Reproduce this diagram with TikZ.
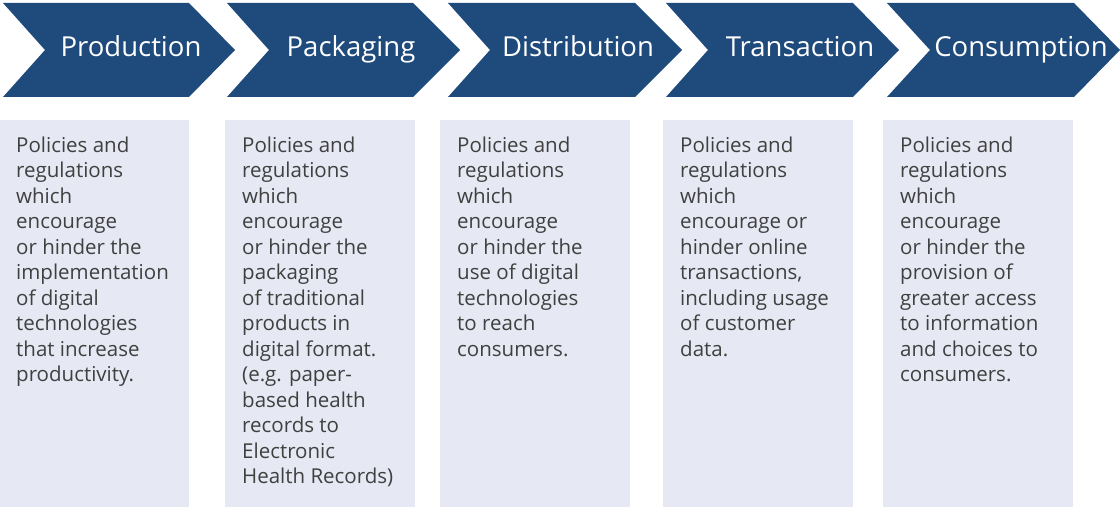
\documentclass[tikz,border=0pt]{standalone}
\usepackage{fontspec}
\setmainfont{Open Sans}
\usepackage{tikz}
\usetikzlibrary{positioning}
\usepackage{xcolor}
\definecolor{chevblue}{HTML}{1F4A7C}
\definecolor{panellilac}{HTML}{E6E9F3}
\definecolor{bodygray}{HTML}{404040}

\begin{document}
\begin{tikzpicture}[x=1pt, y=-1pt,
  chev/.style={fill=chevblue},
  stagetitle/.style={text=white, anchor=base, inner sep=0pt, font=\fontsize{27.5}{30}\selectfont},
  panel/.style={fill=panellilac, anchor=north west, minimum width=190pt, minimum height=387pt, inner sep=0pt, outer sep=0pt},
  paneltext/.style={text=bodygray, align=left, inner sep=0pt, font=\fontsize{20.5}{25.5}\selectfont}]
  \useasboundingbox (0,0) rectangle (1120,508);
  % stage chevrons
  \fill[chev] (3,3) -- (189,3) -- (235,50) -- (189,97) -- (3,97) -- (45,50) -- cycle;
  \fill[chev] (227,3) -- (413,3) -- (460,50) -- (413,97) -- (227,97) -- (269,50) -- cycle;
  \fill[chev] (448,3) -- (635,3) -- (682,50) -- (635,97) -- (448,97) -- (490,50) -- cycle;
  \fill[chev] (666,3) -- (853,3) -- (899,50) -- (853,97) -- (666,97) -- (708,50) -- cycle;
  \fill[chev] (887,3) -- (1074,3) -- (1120,50) -- (1074,97) -- (887,97) -- (930,50) -- cycle;
  \node[stagetitle] (prod) at (131,57) {Production};
  \node[stagetitle] (pack) at (351,57) {Packaging};
  \node[stagetitle] (dist) at (578,57) {Distribution};
  \node[stagetitle] (trans) at (800,57) {Transaction};
  \node[stagetitle] (cons) at (1021,57) {Consumption};
  % policy panels
  \node[panel] (prodbox) at (-1,120) {};
  \node[panel] (packbox) at (225,120) {};
  \node[panel] (distbox) at (440,120) {};
  \node[panel] (transbox) at (663,120) {};
  \node[panel] (consbox) at (883,120) {};
  \node[paneltext, below right=16.5pt and 17pt of prodbox.north west] (prodtext)
    {Policies and\\regulations\\which\\encourage\\or hinder the\\implementation\\of digital\\technologies\\that increase\\productivity.};
  \node[paneltext, below right=16.5pt and 17pt of packbox.north west] (packtext)
    {Policies and\\regulations\\which\\encourage\\or hinder the\\packaging\\of traditional\\products in\\digital format.\\(e.g. paper-\\based health\\records to\\Electronic\\Health Records)};
  \node[paneltext, below right=16.5pt and 17pt of distbox.north west] (disttext)
    {Policies and\\regulations\\which\\encourage\\or hinder the\\use of digital\\technologies\\to reach\\consumers.};
  \node[paneltext, below right=16.5pt and 17pt of transbox.north west] (transtext)
    {Policies and\\regulations\\which\\encourage or\\hinder online\\transactions,\\including usage\\of customer\\data.};
  \node[paneltext, below right=16.5pt and 17pt of consbox.north west] (constext)
    {Policies and\\regulations\\which\\encourage\\or hinder the\\provision of\\greater access\\to information\\and choices to\\consumers.};
\end{tikzpicture}
\end{document}
